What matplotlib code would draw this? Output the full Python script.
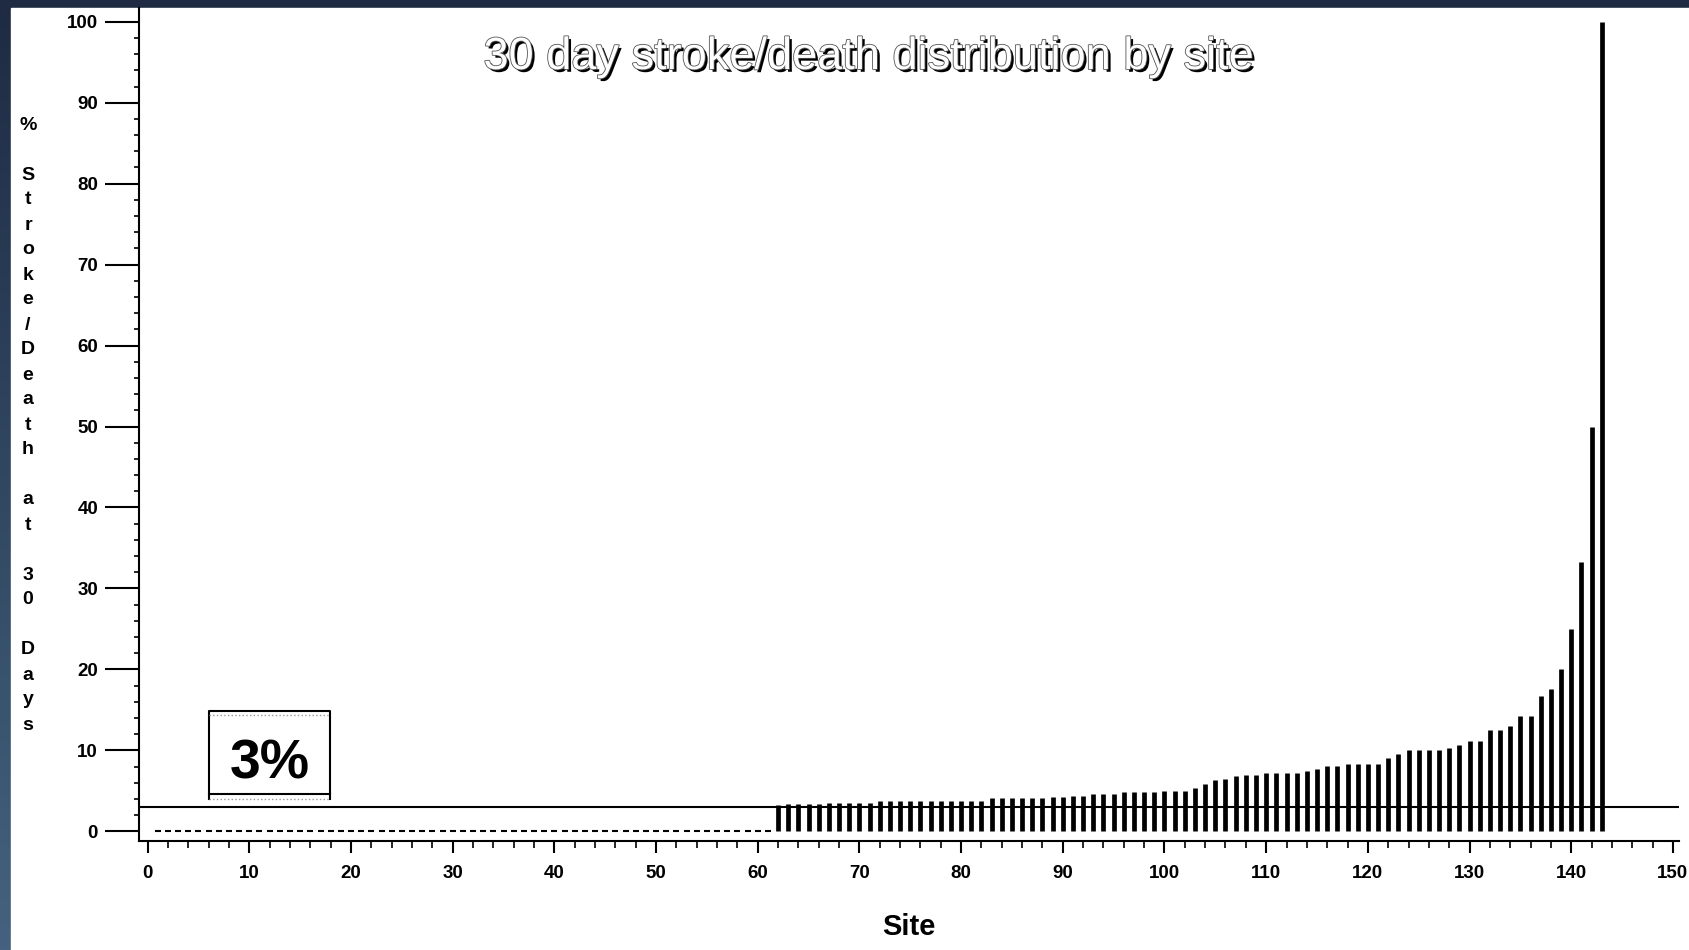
import numpy as np
import matplotlib.pyplot as plt
import matplotlib.patheffects as pe
from matplotlib.colors import LinearSegmentedColormap
from matplotlib.ticker import MultipleLocator

plt.rcParams['font.family'] = ['Liberation Sans', 'DejaVu Sans']
plt.rcParams['font.weight'] = 'bold'

# sites with no stroke/death at 30 days
zero_sites = list(range(1, 62))
zero_values = [0] * len(zero_sites)

# sites with events (% stroke/death at 30 days), sorted
bar_sites = list(range(62, 144))
bar_values = [3.3, 3.4, 3.4, 3.4, 3.4, 3.5, 3.5, 3.5, 3.5, 3.5,
              3.7, 3.7, 3.7, 3.7, 3.7, 3.7, 3.8, 3.8, 3.8, 3.8,
              3.8, 4.1, 4.1, 4.1, 4.1, 4.1, 4.1, 4.2, 4.2, 4.35,
              4.35, 4.6, 4.6, 4.6, 4.9, 4.9, 4.9, 4.9, 5.0, 5.0,
              5.0, 5.4, 5.9, 6.3, 6.5, 6.8, 6.9, 6.9, 7.2, 7.2,
              7.2, 7.2, 7.5, 7.7, 8.1, 8.1, 8.35, 8.35, 8.35, 8.35,
              9.1, 9.5, 10.0, 10.0, 10.0, 10.0, 10.3, 10.6, 11.1, 11.1,
              12.5, 12.5, 13.0, 14.3, 14.3, 16.7, 17.6, 20.0, 25.0, 33.3,
              50.0, 100.0]

threshold = 3
title = '30 day stroke/death distribution by site'
ylabel = '% Stroke/Death at 30 Days'

W, H = 1690, 950
fig = plt.figure(figsize=(W / 100, H / 100), dpi=100)

# dark frame with gradient, white page
bg = fig.add_axes([0, 0, 1, 1])
bg.axis('off')
cmap = LinearSegmentedColormap.from_list('frame', ['#44627f', '#1e2b42'])
bg.imshow(np.linspace(0, 1, 256).reshape(-1, 1), cmap=cmap, aspect='auto',
          extent=[0, 1, 0, 1], origin='lower')
bg.add_patch(plt.Rectangle((11 / W, 0), 1, 1 - 8 / H, color='white',
                           transform=bg.transAxes))
bg.set_xlim(0, 1)
bg.set_ylim(0, 1)

ax = fig.add_axes([139 / W, 1 - 841 / H, (1679 - 139) / W, (841 - 8) / H])
ax.patch.set_visible(False)

ax.vlines(bar_sites, 0, bar_values, color='black', lw=3.4)
ax.plot(zero_sites, zero_values, linestyle='none', marker='_',
        markersize=4, mew=1.5, color='black')
ax.axhline(threshold, color='black', lw=1.5)

ax.set_xlim(-0.85, 150.6)
ax.set_ylim(-1.2, 101.7)

for s in ['top', 'right']:
    ax.spines[s].set_visible(False)
for s in ['left', 'bottom']:
    ax.spines[s].set_linewidth(1.5)

ax.xaxis.set_major_locator(MultipleLocator(10))
ax.xaxis.set_minor_locator(MultipleLocator(2))
ax.yaxis.set_major_locator(MultipleLocator(10))
ax.yaxis.set_minor_locator(MultipleLocator(2))
ax.tick_params(axis='x', which='major', direction='out', length=8.6, width=1.5,
               pad=9, labelsize=13.5)
ax.tick_params(axis='x', which='minor', direction='out', length=5, width=1.2)
ax.tick_params(axis='y', which='major', direction='out', length=24.5, width=1.5,
               pad=5, labelsize=13.5)
ax.tick_params(axis='y', which='minor', direction='out', length=3.6, width=1.2)

ax.set_xlabel('Site', fontsize=21, fontweight='bold')
ax.xaxis.set_label_coords(0.5, -0.1032)
ax.xaxis.label.set_verticalalignment('center')

# vertical stacked y label
for i, ch in enumerate(ylabel):
    fig.text(28 / W, 1 - (125 + 25 * i) / H, ch, ha='center', va='center',
             fontsize=14, fontweight='bold')

fig.text(868 / W, 1 - 69 / H, title, ha='center', va='baseline',
         fontsize=32.5, fontweight='normal', color='white',
         path_effects=[pe.SimplePatchShadow(offset=(2, -2),
                                            shadow_rgbFace='black', alpha=1),
                       pe.Stroke(linewidth=1.2, foreground='#555555'),
                       pe.Normal()])

# 3% box
bx0, bx1 = 6.03, 17.93
ax.plot([bx0, bx0, bx1, bx1], [4.05, 14.88, 14.88, 4.05], color='black', lw=1.5)
ax.plot([bx0, bx1], [4.6, 4.6], color='black', lw=1.5)
ax.plot([bx0, bx1], [14.35, 14.35], color='#999999', lw=1, ls=':')
ax.plot([bx0, bx1], [4.05, 4.05], color='#999999', lw=1, ls=':')
ax.text((bx0 + bx1) / 2, 6.57, '3%', ha='center', va='baseline',
        fontsize=40, fontweight='bold')

fig.savefig('out.png', dpi=100)
